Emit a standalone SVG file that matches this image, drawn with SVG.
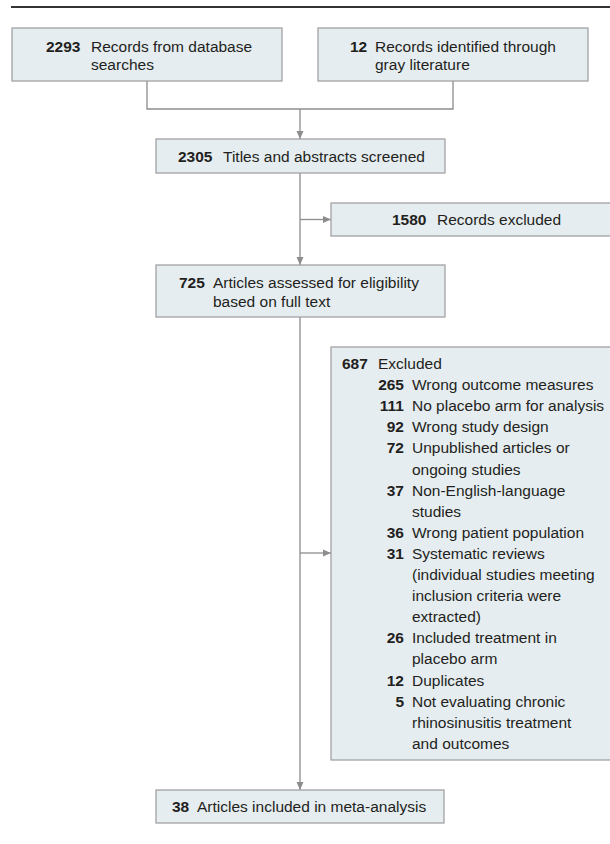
<svg xmlns="http://www.w3.org/2000/svg" width="610" height="844" viewBox="0 0 610 844">
<style>
.box{fill:#e6edf1;stroke:#9b9b9b;stroke-width:1.2}
text{font-family:"Liberation Sans",Arial,sans-serif;font-size:15.5px;fill:#231f20}
.b{font-weight:bold}
.n{font-weight:bold;text-anchor:end}
.c{fill:none;stroke:#8d8d8d;stroke-width:1.3}
</style>
<defs>
<marker id="ah" markerUnits="userSpaceOnUse" markerWidth="10" markerHeight="10" refX="8" refY="4" orient="auto">
<path d="M0,0.5 L8,4 L0,7.5 Z" fill="#8d8d8d"/>
</marker>
</defs>
<rect x="0" y="0" width="610" height="844" fill="#ffffff"/>
<line x1="11" y1="7" x2="610" y2="7" stroke="#333333" stroke-width="2"/>
<g id="connectors">
<polyline class="c" points="147,81 147,109 453,109 453,81"/>
<line class="c" x1="300" y1="109" x2="300" y2="139" marker-end="url(#ah)"/>
<line class="c" x1="300" y1="173" x2="300" y2="265" marker-end="url(#ah)"/>
<line class="c" x1="300" y1="219.5" x2="331" y2="219.5" marker-end="url(#ah)"/>
<line class="c" x1="300" y1="317" x2="300" y2="790" marker-end="url(#ah)"/>
<line class="c" x1="300" y1="553" x2="331" y2="553" marker-end="url(#ah)"/>
</g>
<g id="n2293">
<rect class="box" x="12" y="28" width="270" height="53"/>
<text x="46" y="52" class="b">2293</text>
<text x="91" y="52">Records from database</text>
<text x="91" y="70">searches</text>
</g>
<g id="n12">
<rect class="box" x="318" y="28" width="270" height="53"/>
<text x="350" y="52" class="b">12</text>
<text x="375" y="52">Records identified through</text>
<text x="375" y="70">gray literature</text>
</g>
<g id="n2305">
<rect class="box" x="156" y="139" width="289" height="34"/>
<text x="178" y="162" class="b">2305</text>
<text x="223" y="162">Titles and abstracts screened</text>
</g>
<g id="n1580">
<rect class="box" x="331" y="203" width="290" height="33"/>
<text x="392" y="225" class="b">1580</text>
<text x="437" y="225">Records excluded</text>
</g>
<g id="n725">
<rect class="box" x="156" y="265" width="289" height="52"/>
<text x="179" y="288" class="b">725</text>
<text x="213" y="288">Articles assessed for eligibility</text>
<text x="213" y="307">based on full text</text>
</g>
<g id="n687">
<rect class="box" x="331" y="347" width="290" height="413"/>
<text x="342" y="369" class="b">687</text>
<text x="378" y="369">Excluded</text>
<text x="404" y="390.1" class="n">265</text>
<text x="412" y="390.1">Wrong outcome measures</text>
<text x="404" y="411.2" class="n">111</text>
<text x="412" y="411.2">No placebo arm for analysis</text>
<text x="404" y="432.3" class="n">92</text>
<text x="412" y="432.3">Wrong study design</text>
<text x="404" y="453.4" class="n">72</text>
<text x="412" y="453.4">Unpublished articles or</text>
<text x="412" y="474.5">ongoing studies</text>
<text x="404" y="495.6" class="n">37</text>
<text x="412" y="495.6">Non-English-language</text>
<text x="412" y="516.7">studies</text>
<text x="404" y="537.8" class="n">36</text>
<text x="412" y="537.8">Wrong patient population</text>
<text x="404" y="558.9" class="n">31</text>
<text x="412" y="558.9">Systematic reviews</text>
<text x="412" y="580">(individual studies meeting</text>
<text x="412" y="601.1">inclusion criteria were</text>
<text x="412" y="622.2">extracted)</text>
<text x="404" y="643.3" class="n">26</text>
<text x="412" y="643.3">Included treatment in</text>
<text x="412" y="664.4">placebo arm</text>
<text x="404" y="685.5" class="n">12</text>
<text x="412" y="685.5">Duplicates</text>
<text x="404" y="706.6" class="n">5</text>
<text x="412" y="706.6">Not evaluating chronic</text>
<text x="412" y="727.7">rhinosinusitis treatment</text>
<text x="412" y="748.8">and outcomes</text>
</g>
<g id="n38">
<rect class="box" x="156" y="790" width="288" height="33"/>
<text x="172" y="812" class="b">38</text>
<text x="197" y="812">Articles included in meta-analysis</text>
</g>
</svg>
